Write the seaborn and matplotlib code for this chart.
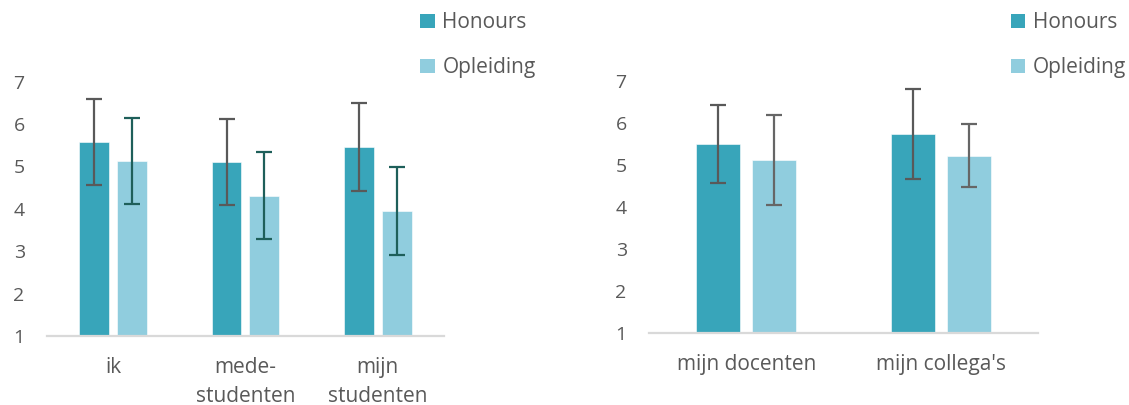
import numpy as np
import pandas as pd
import seaborn as sns
import matplotlib.pyplot as plt
from matplotlib.patches import Patch

# data
groups = ["Honours", "Opleiding"]
left_cats = ["ik", "mede-\nstudenten", "mijn\nstudenten"]
left_honours = [5.58, 5.11, 5.46]
left_honours_err = [1.02, 1.02, 1.03]
left_opleiding = [5.13, 4.31, 3.95]
left_opleiding_err = [1.02, 1.02, 1.03]

right_cats = ["mijn docenten", "mijn collega's"]
right_honours = [5.49, 5.73]
right_honours_err = [0.93, 1.08]
right_opleiding = [5.11, 5.21]
right_opleiding_err = [1.07, 0.75]

y_ticks = [1, 2, 3, 4, 5, 6, 7]

sns.set_theme(style="white")
plt.rcParams['font.family'] = ['Open Sans', 'DejaVu Sans']

text_color = "#595959"
palette = {"Honours": "#38A5BA", "Opleiding": "#90CDDE"}

fig = plt.figure(figsize=(11.29, 4.05), dpi=100)
ax_left = fig.add_axes([0.0416, 0.1704, 0.3516, 0.628])
ax_right = fig.add_axes([0.5748, 0.1785, 0.3446, 0.622])


def make_df(cats, hon, opl):
    return pd.DataFrame({
        "cat": cats * 2,
        "grp": ["Honours"] * len(cats) + ["Opleiding"] * len(cats),
        "val": hon + opl,
    })


def draw_panel(ax, cats, hon, hon_err, opl, opl_err, err_colors, legend_xy):
    df = make_df(cats, hon, opl)
    sns.barplot(data=df, x="cat", y="val", hue="grp", palette=palette,
                saturation=1, width=0.572, gap=0.21, errorbar=None, legend=False,
                edgecolor="white", linewidth=0.4, ax=ax)

    # error bars centered on the bars seaborn drew
    for container, errs, col in zip(ax.containers, [hon_err, opl_err], err_colors):
        xs = [b.get_x() + b.get_width() / 2 for b in container]
        ys = [b.get_height() + b.get_y() for b in container]
        ax.errorbar(xs, ys, yerr=errs, fmt="none", ecolor=col,
                    elinewidth=1.6, capsize=6, capthick=1.6, zorder=5)

    ax.set_ylim(1, 7)
    ax.set_yticks(y_ticks)
    ax.set_xlim(-0.5, len(cats) - 0.5)
    ax.set(xlabel="", ylabel="")
    for s in ["top", "right", "left"]:
        ax.spines[s].set_visible(False)
    ax.spines["bottom"].set_color("#D9D9D9")
    ax.spines["bottom"].set_linewidth(1.6)
    ax.tick_params(axis="y", length=0, pad=16, labelsize=14, labelcolor=text_color)
    ax.tick_params(axis="x", length=0, pad=15, labelsize=15, labelcolor=text_color)
    for lbl in ax.get_xticklabels():
        lbl.set_linespacing(1.5)
        lbl.set_verticalalignment("top")

    handles = [Patch(facecolor=palette[g], edgecolor="none") for g in groups]
    ax.legend(handles, groups, loc="upper left", bbox_to_anchor=legend_xy,
              bbox_transform=fig.transFigure, frameon=False, fontsize=15,
              labelcolor=text_color, handlelength=0.7, handleheight=0.7,
              handletextpad=0.35, labelspacing=1.15, borderaxespad=0)


draw_panel(ax_left, left_cats, left_honours, left_honours_err,
           left_opleiding, left_opleiding_err, ["#595959", "#1E5F5A"],
           (0.365, 0.99))
draw_panel(ax_right, right_cats, right_honours, right_honours_err,
           right_opleiding, right_opleiding_err, ["#595959", "#666666"],
           (0.888, 0.99))

fig.savefig("out.png", dpi=100, facecolor="white")
